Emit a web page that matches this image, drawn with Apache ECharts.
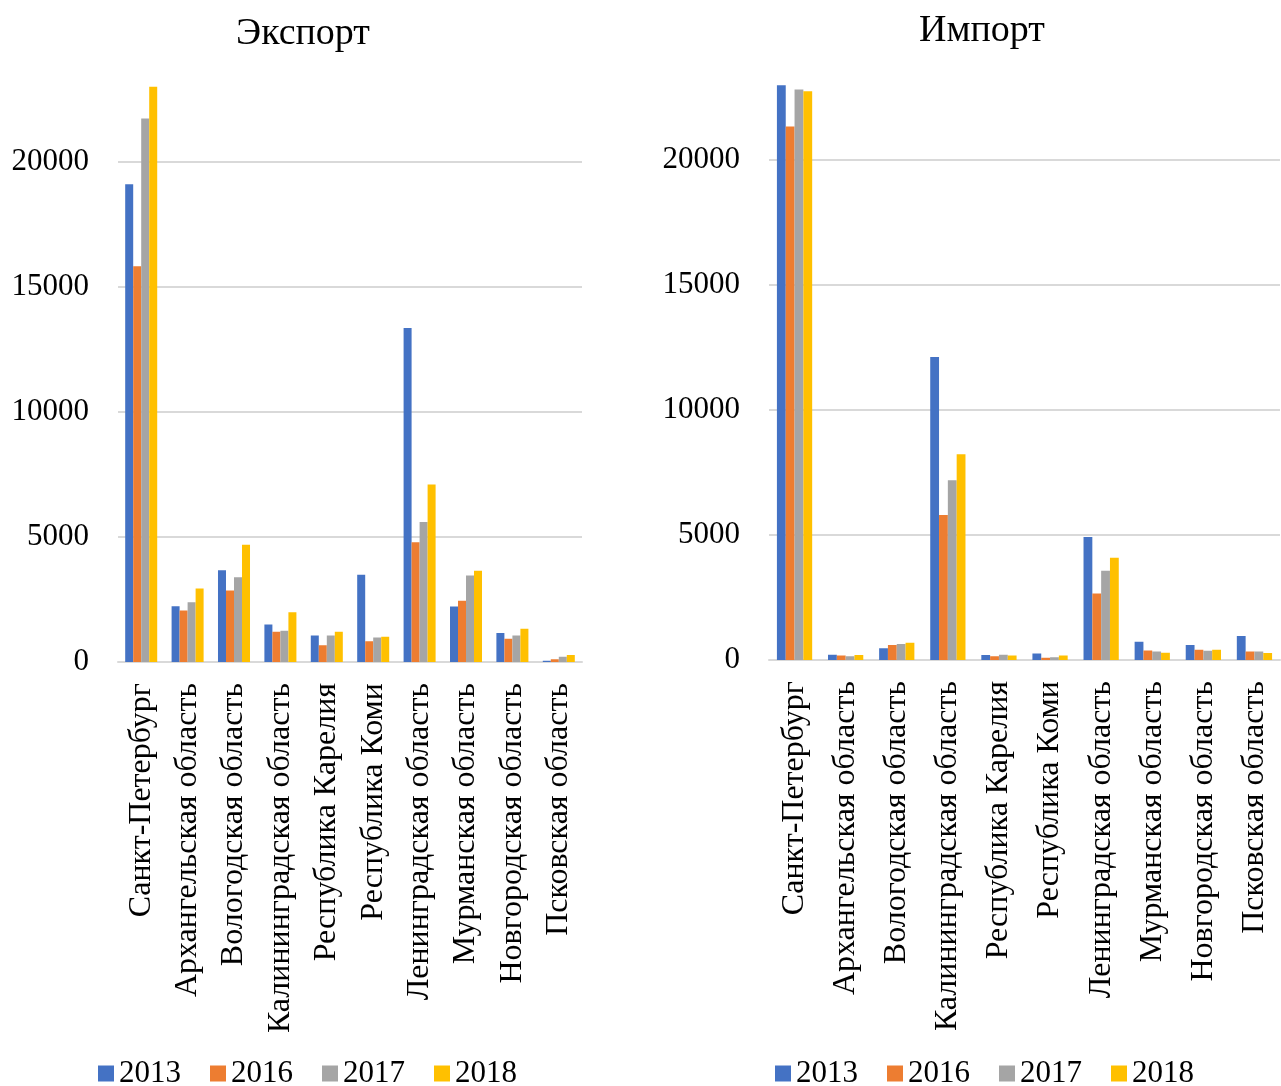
<!DOCTYPE html>
<html>
<head>
<meta charset="utf-8">
<script src="https://cdn.jsdelivr.net/npm/echarts@6/dist/echarts.min.js"></script>
<style>
  html, body { margin: 0; padding: 0; background: #fff; }
  #chart { width: 1281px; height: 1086px; }
</style>
</head>
<body>
<div id="chart"></div>
<script>
// Regions of the North-West federal district
const categories = [
  'Санкт-Петербург', 'Архангельская область', 'Вологодская область',
  'Калининградская область', 'Республика Карелия', 'Республика Коми',
  'Ленинградская область', 'Мурманская область', 'Новгородская область',
  'Псковская область'
];
const years = ['2013', '2016', '2017', '2018'];

// Export by region and year
const export2013 = [19110, 2230, 3670, 1500, 1060, 3490, 13360, 2220, 1160, 50];
const export2016 = [15830, 2060, 2860, 1210, 670, 830, 4790, 2450, 930, 110];
const export2017 = [21740, 2390, 3390, 1250, 1060, 980, 5600, 3460, 1060, 210];
const export2018 = [23010, 2940, 4690, 1990, 1210, 1010, 7100, 3650, 1330, 280];

// Import by region and year
const import2013 = [22990, 210, 470, 12120, 200, 260, 4920, 730, 600, 960];
const import2016 = [21340, 180, 600, 5800, 150, 90, 2660, 380, 410, 340];
const import2017 = [22820, 150, 640, 7190, 210, 110, 3570, 340, 370, 340];
const import2018 = [22750, 200, 690, 8230, 180, 180, 4090, 290, 410, 280];

const colors = ['#4472C4', '#ED7D31', '#A5A5A5', '#FFC000'];
const FONT = "'Liberation Serif', 'Times New Roman', serif";

const exportData = [export2013, export2016, export2017, export2018];
const importData = [import2013, import2016, import2017, import2018];

function xAxis(gridIndex) {
  return {
    type: 'category', gridIndex, data: categories,
    axisLine: { show: true, lineStyle: { color: '#d9d9d9', width: 2 } },
    axisTick: { show: false },
    axisLabel: {
      rotate: 90, interval: 0, margin: 21,
      color: '#000', fontFamily: FONT, fontSize: 32
    }
  };
}
function yAxis(gridIndex) {
  return {
    type: 'value', gridIndex, min: 0, max: 23200, interval: 5000,
    axisLine: { show: false }, axisTick: { show: false },
    axisLabel: {
      margin: 29, color: '#000', fontFamily: FONT, fontSize: 31, showMaxLabel: false,
      formatter: v => String(v)
    },
    splitLine: { showMaxLine: false, lineStyle: { color: '#d9d9d9', width: 2 } }
  };
}
function bars(dataSets, idx) {
  return dataSets.map((d, i) => ({
    name: years[i], type: 'bar', data: d,
    xAxisIndex: idx, yAxisIndex: idx,
    itemStyle: { color: colors[i] },
    barGap: '0%', barCategoryGap: '31%',
    animation: false
  }));
}
function legend(left) {
  return {
    data: years, left, top: 1058, orient: 'horizontal', padding: 0,
    icon: 'rect', itemWidth: 16, itemHeight: 16, itemGap: 29,
    textStyle: { color: '#000', fontFamily: FONT, fontSize: 31 },
    selectedMode: false
  };
}

const chart = echarts.init(document.getElementById('chart'));
chart.setOption({
  animation: false,
  color: colors,
  title: [
    { text: 'Экспорт', left: 303, top: 15, textAlign: 'center', padding: 0,
      textStyle: { color: '#000', fontFamily: FONT, fontSize: 38, fontWeight: 'normal' } },
    { text: 'Импорт', left: 982, top: 12, textAlign: 'center', padding: 0,
      textStyle: { color: '#000', fontFamily: FONT, fontSize: 38, fontWeight: 'normal' } }
  ],
  legend: [legend(98), legend(775)],
  grid: [
    { left: 118, width: 464, top: 82, bottom: 424, containLabel: false, outerBoundsMode: 'none' },
    { left: 769, right: 1, top: 80, bottom: 426, containLabel: false, outerBoundsMode: 'none' }
  ],
  xAxis: [xAxis(0), xAxis(1)],
  yAxis: [yAxis(0), yAxis(1)],
  series: [...bars(exportData, 0), ...bars(importData, 1)]
});
</script>
</body>
</html>
